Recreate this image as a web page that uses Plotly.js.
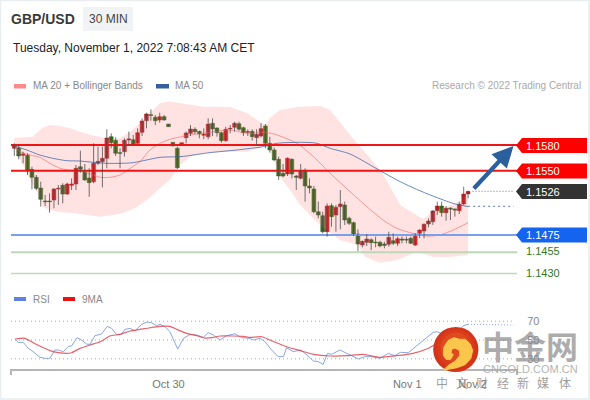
<!DOCTYPE html>
<html><head><meta charset="utf-8">
<script src="https://cdn.plot.ly/plotly-3.0.0.min.js"></script>
<style>html,body{margin:0;padding:0;background:#fff}#c{width:590px;height:400px}</style>
</head><body><div id="c"></div>
<script>
var open_=[1.15761,1.15765,1.15679,1.15679,1.15516,1.15423,1.15298,1.15147,1.15147,1.15158,1.15287,1.15329,1.15228,1.15329,1.15345,1.15547,1.15489,1.15415,1.15372,1.15586,1.15606,1.15644,1.15897,1.15854,1.15711,1.15722,1.15858,1.15862,1.15819,1.15948,1.16084,1.16154,1.16123,1.16092,1.16131,1.16045,1.15831,1.15761,1.15800,1.15886,1.15936,1.15983,1.15959,1.15913,1.15897,1.16053,1.15998,1.15944,1.15851,1.15987,1.16006,1.16049,1.16002,1.15948,1.15959,1.15886,1.15905,1.16022,1.15819,1.15742,1.15633,1.15469,1.15462,1.15633,1.15438,1.15411,1.15501,1.15322,1.15287,1.15022,1.14976,1.14789,1.15092,1.14983,1.15081,1.15100,1.14944,1.14894,1.14762,1.14633,1.14664,1.14695,1.14668,1.14664,1.14645,1.14641,1.14684,1.14653,1.14703,1.14699,1.14711,1.14633,1.14769,1.14797,1.14878,1.14905,1.15034,1.15088,1.15011,1.15065,1.15053,1.15034,1.15112,1.15228];
var close_=[1.15792,1.15672,1.15695,1.15508,1.15423,1.15294,1.15166,1.15139,1.15139,1.15287,1.15294,1.15228,1.15345,1.15345,1.15528,1.15516,1.15392,1.15361,1.15586,1.15609,1.15644,1.15882,1.15827,1.15703,1.15703,1.15854,1.15870,1.15808,1.15944,1.16080,1.16162,1.16146,1.16084,1.16131,1.16092,1.16014,1.15788,1.15536,1.15827,1.15940,1.15987,1.15956,1.15928,1.15924,1.16045,1.15987,1.15944,1.15851,1.15983,1.15994,1.16053,1.15983,1.15944,1.15956,1.15897,1.15924,1.15991,1.15819,1.15742,1.15625,1.15438,1.15438,1.15644,1.15462,1.15423,1.15501,1.15322,1.15298,1.15022,1.14983,1.14789,1.15088,1.14964,1.15073,1.15112,1.14925,1.14886,1.14750,1.14645,1.14676,1.14703,1.14661,1.14661,1.14622,1.14629,1.14723,1.14653,1.14707,1.14692,1.14692,1.14653,1.14762,1.14808,1.14874,1.14913,1.15030,1.15088,1.15011,1.15061,1.15053,1.15042,1.15108,1.15228,1.15259];
var high_=[1.15819,1.15800,1.15722,1.15703,1.15547,1.15450,1.15372,1.15217,1.15236,1.15294,1.15333,1.15353,1.15361,1.15411,1.15567,1.15734,1.15578,1.15528,1.15819,1.15781,1.15781,1.15983,1.15936,1.15889,1.15761,1.15878,1.15956,1.15917,1.15994,1.16111,1.16177,1.16216,1.16150,1.16177,1.16150,1.16045,1.15831,1.15781,1.15827,1.15956,1.16033,1.16006,1.15967,1.15994,1.16111,1.16111,1.16006,1.15956,1.16014,1.16033,1.16072,1.16072,1.16014,1.15983,1.15983,1.15983,1.16053,1.16045,1.15897,1.15769,1.15664,1.15578,1.15656,1.15644,1.15450,1.15578,1.15528,1.15411,1.15322,1.15139,1.15022,1.15119,1.15119,1.15100,1.15275,1.15139,1.14964,1.14906,1.14816,1.14684,1.14762,1.14711,1.14731,1.14684,1.14672,1.14789,1.14769,1.14731,1.14731,1.14731,1.14731,1.14769,1.14816,1.14886,1.14944,1.15042,1.15139,1.15139,1.15088,1.15073,1.15061,1.15139,1.15314,1.15267];
var low_=[1.15672,1.15633,1.15586,1.15450,1.15283,1.15275,1.15081,1.15088,1.15011,1.15061,1.15100,1.15119,1.15217,1.15275,1.15275,1.15477,1.15384,1.15197,1.15353,1.15567,1.15306,1.15528,1.15761,1.15672,1.15528,1.15664,1.15800,1.15800,1.15800,1.15905,1.15994,1.16084,1.16033,1.16061,1.16084,1.16014,1.15788,1.15520,1.15800,1.15819,1.15905,1.15928,1.15878,1.15866,1.15866,1.15905,1.15897,1.15827,1.15839,1.15936,1.15956,1.15967,1.15905,1.15905,1.15851,1.15800,1.15889,1.15761,1.15711,1.15617,1.15392,1.15423,1.15438,1.15411,1.15275,1.15399,1.15139,1.15236,1.15003,1.14944,1.14769,1.14731,1.14847,1.14789,1.14816,1.14867,1.14867,1.14738,1.14563,1.14606,1.14622,1.14575,1.14606,1.14606,1.14594,1.14614,1.14633,1.14622,1.14653,1.14653,1.14645,1.14622,1.14715,1.14711,1.14839,1.14867,1.14983,1.14964,1.14917,1.14925,1.14964,1.14995,1.15100,1.15178];

var upperX=[0,4.2,6.3,8.1,10.4,12.6,14.9,17.2,19.5,21.7,24,26.3,28.5,30.8,33.1,35.3,39.9,42.8,49,52.8,55.8,57,58,60.3,64.2,69.4,71.7,76.2,83.4,85.3,87.6,90.5,92.8,94.8,97.1,100.5,103];
var upperY=[1.15882,1.15897,1.15998,1.16033,1.16022,1.15995,1.15955,1.15917,1.15897,1.15858,1.15882,1.15955,1.16057,1.16173,1.1629,1.16308,1.16267,1.16247,1.16243,1.16173,1.16072,1.16033,1.16115,1.16208,1.16243,1.16255,1.16208,1.15917,1.15488,1.1531,1.151,1.15007,1.14937,1.15007,1.15065,1.15123,1.15217];
var lowerX=[0,1.3,3.6,5.2,6.5,8.1,10.4,13.3,16.5,19.5,22.4,24.7,27.9,30.1,33.1,35.3,37.6,39.9,42.8,48.3,52.8,55.8,57,58,60.3,62.6,64.9,69.4,73.9,78,79.6,83,86.9,91.4,95,98.2,103];
var lowerY=[1.15765,1.15625,1.15392,1.1524,1.15077,1.15042,1.15018,1.15007,1.14983,1.14963,1.14983,1.15007,1.15077,1.15158,1.15298,1.15392,1.15567,1.15663,1.15707,1.15722,1.15722,1.15765,1.15823,1.15742,1.15427,1.15275,1.151,1.14867,1.14692,1.14633,1.14497,1.14427,1.14458,1.14555,1.14497,1.1449,1.14517];
var ma20X=[0,1.3,3.6,5.8,8.1,10.4,12.6,14.9,17.2,19.5,21.7,24,26.3,28.5,30.8,33.1,35.3,39.9,42.8,49,52.8,57,59.6,64.2,67.9,71.7,76.2,80,83.7,86.8,90.5,93.6,96.6,99.6,103];
var ma20Y=[1.15781,1.15722,1.15683,1.15656,1.15586,1.15528,1.15508,1.15501,1.15462,1.15423,1.15423,1.1545,1.15528,1.15606,1.15742,1.15819,1.15866,1.15917,1.15936,1.15975,1.15936,1.15948,1.15917,1.15819,1.15664,1.15469,1.15256,1.15081,1.14925,1.14828,1.14769,1.14738,1.1475,1.14808,1.14894];
var ma50X=[0,2.8,5.8,8.8,11.9,14.9,17.9,21,24,27,30,33.1,37.6,39.1,44.4,50.5,56.5,59.6,65.5,68.7,71.7,76.2,83.4,87.6,91.3,95,99.6,103];
var ma50Y=[1.15788,1.15742,1.15683,1.15644,1.15617,1.15613,1.15598,1.15586,1.15586,1.15594,1.15625,1.15656,1.15664,1.15672,1.15711,1.15742,1.15781,1.1582,1.15831,1.1582,1.15761,1.15695,1.15489,1.15372,1.15283,1.15205,1.15119,1.15081];

var rsiX=[0.2,0.9,2,3.2,4.3,5.8,7,8.1,9.2,10,11.1,12.3,13,14.2,15.3,16.4,17.2,18.3,19.8,21.1,22.1,23.2,24.2,25.1,26.3,27.4,28.9,30.1,31.2,32.3,33.1,34.2,35.3,36.1,37.1,38.4,39.9,41.4,42.9,44,45.2,46.7,48.2,50.1,51.6,53.5,54.3,55.8,56.9,58.4,59.9,61.1,61.8,63.3,64.9,66,67.9,69,70.1,71.1,72,73.9,75.5,76.6,78.1,79.6,81.1,83,84.9,86.4,87.6,89.4,90.6,92.1,93.6,95.1,95.9,99.6,101.9,103];
var rsiY=[50.7,47.5,47.5,41.1,37.6,31.6,30.5,30.5,39.4,39.4,37.6,43.3,43.6,52.5,50,45.7,45.4,54.6,56.4,64.5,62.4,56,56,61.3,62.4,59.9,66.7,69.1,68.4,65.2,66.7,64.2,58.9,50,40.4,51.8,56,55.3,52.8,57.8,55.3,50,54.6,56.7,52.5,51.8,50,51.8,48.2,39.4,32.3,32.3,41.8,37.6,39.4,35.8,27.7,27,24.1,35.8,34.8,39.4,35.8,33.3,29.8,32.3,32.3,30.5,35.8,33.3,36.9,36.5,41.1,46.5,51.8,58.2,58.9,52,65.2,66.7];
var rsi9X=[0.2,1.3,2.4,3.9,5.8,8.1,10,11.9,13,14.9,17.2,19.5,21.7,24,26.3,28.5,30.8,33.1,35.3,36.9,39.1,41.4,43.3,45.2,46.7,49.7,52,53.5,56.2,58,61.8,64.9,67.9,71.7,75.5,79.2,83,86.8,90.5,93.6,96.6];
var rsi9Y=[51.1,51.8,51.8,48.2,43.6,38.7,36.5,35.8,36.5,41.1,44.7,48.2,54.3,56,59.6,61.3,63.1,64.5,64.5,61.3,57.1,54.6,52.1,52.8,54.3,54.3,53.9,52.8,53.5,50,42.9,38.7,34.8,33,33.3,34.8,31.6,33.3,35.8,40.4,48.2];

var levels=[1.1580,1.1550,1.1475,1.1455,1.1430];
var levelText=["1.1580","1.1550","1.1475","1.1455","1.1430"];
var levelColor=["#f01414","#f01414","#7ba0ea","#bcd8b6","#bcdcb6"];
var levelWidth=[2,2,2,2,1.4];
var lastPrice=1.1526, lastMA50=1.15085, lastRSI=66;
var rsiGuides=[30,50,70];
var tickVals=[35,89.2,104], tickText=["Oct 30","Nov 1","Nov 2"];
var wmChars=["中","文","财","经","新","媒","体"], wmCharX=[441.7,461.7,481.7,503,523,543,565];
var xMin=-0.75,xMax=114.1,lastIdx=103,dotEnd=113.3;

var W=590,H=400,idx=open_.map(function(_,i){return i;});
function fx(x){return x/W;} function fy(y){return 1-y/H;}
function path(pts,close){return pts.map(function(p,i){return (i?'L':'M')+fx(p[0]).toFixed(5)+','+fy(p[1]).toFixed(5);}).join(' ')+(close?' Z':'');}

var wx=[],wy=[];
idx.forEach(function(i){wx.push(i,i,null);wy.push(high_[i],low_[i],null);});
var bodyHi=idx.map(function(i){return Math.max(open_[i],close_[i]);});
var bodyLo=idx.map(function(i){return Math.min(open_[i],close_[i]);});
var bandCol='rgba(255,110,110,0.2)';
var traces=[];
traces.push({type:'scatter',mode:'lines',x:upperX.concat(lowerX.slice().reverse()),y:upperY.concat(lowerY.slice().reverse()),fill:'toself',fillcolor:bandCol,line:{width:0},hoverinfo:'skip',showlegend:false});
traces.push({type:'scatter',mode:'lines',x:ma20X,y:ma20Y,line:{color:'rgba(240,110,110,0.65)',width:1,shape:'spline',smoothing:0.7},showlegend:false});
traces.push({type:'scatter',mode:'lines',x:ma50X,y:ma50Y,line:{color:'rgba(55,100,165,0.75)',width:1,shape:'spline',smoothing:0.7},showlegend:false});
levels.forEach(function(v,k){traces.push({type:'scatter',mode:'lines',x:[xMin,xMax],y:[v,v],line:{color:levelColor[k],width:levelWidth[k]},showlegend:false});});
traces.push({type:'scatter',mode:'lines',x:[104,dotEnd],y:[lastPrice,lastPrice],line:{color:'#777',width:1,dash:'1px 2px'},showlegend:false});
traces.push({type:'scatter',mode:'lines',x:[lastIdx,dotEnd],y:[lastMA50,lastMA50],line:{color:'#5b78b0',width:1,dash:'2px 3px'},showlegend:false});
traces.push({type:'scatter',mode:'lines',x:wx,y:wy,line:{color:'rgba(70,70,70,0.75)',width:1},connectgaps:false,showlegend:false,hoverinfo:'skip'});
traces.push({type:'candlestick',x:idx,open:open_,close:close_,high:bodyHi,low:bodyLo,whiskerwidth:0,
  increasing:{line:{color:'#b81f24',width:0.5},fillcolor:'#c01f24'},decreasing:{line:{color:'#2b6a1f',width:0.5},fillcolor:'#2f701f'},showlegend:false});
rsiGuides.forEach(function(v){traces.push({type:'scatter',mode:'lines',xaxis:'x',yaxis:'y2',x:[xMin,xMax-0.6],y:[v,v],line:{color:'#aaa',width:1,dash:'1px 3px'},showlegend:false});});
traces.push({type:'scatter',mode:'lines',xaxis:'x',yaxis:'y2',x:rsiX,y:rsiY,line:{color:'#8ba6e2',width:1},showlegend:false});
traces.push({type:'scatter',mode:'lines',xaxis:'x',yaxis:'y2',x:[lastIdx,dotEnd],y:[rsiY[rsiY.length-1],lastRSI],line:{color:'#8ba6e2',width:1,dash:'1px 2px'},showlegend:false});
traces.push({type:'scatter',mode:'lines',xaxis:'x',yaxis:'y2',x:rsi9X,y:rsi9Y,line:{color:'rgba(228,70,80,0.85)',width:1.2,shape:'spline',smoothing:0.6},showlegend:false});

var shapes=[
 {type:'rect',xref:'paper',yref:'paper',x0:fx(0.5),x1:fx(589),y0:fy(399),y1:fy(0.5),line:{color:'#e9edf0',width:1.5},fillcolor:'rgba(0,0,0,0)',layer:'below'},
 {type:'rect',xref:'paper',yref:'paper',x0:fx(83),x1:fx(133),y0:fy(31),y1:fy(7),line:{width:0},fillcolor:'#f1f3f5',layer:'below'},
 {type:'rect',xref:'paper',yref:'paper',x0:fx(14),x1:fx(26),y0:fy(88.5),y1:fy(84),line:{width:0},fillcolor:'#ff8a8a'},
 {type:'rect',xref:'paper',yref:'paper',x0:fx(156),x1:fx(169),y0:fy(88.5),y1:fy(84),line:{width:0},fillcolor:'#34609f'},
 {type:'rect',xref:'paper',yref:'paper',x0:fx(14),x1:fx(26),y0:fy(301),y1:fy(297),line:{width:0},fillcolor:'#5f82dc'},
 {type:'rect',xref:'paper',yref:'paper',x0:fx(63),x1:fx(75),y0:fy(301),y1:fy(297),line:{width:0},fillcolor:'#ee1111'},
 {type:'path',xref:'paper',yref:'paper',path:path([[11,375],[11,370],[517,370],[517,375]]),line:{color:'#b5b5b5',width:2}}
];
var tags=[[145.5,'#ff0000'],[171,'#ff0000'],[191.5,'#333333'],[235,'#1464f0']];
tags.forEach(function(t){var c=t[0];
 shapes.push({type:'path',xref:'paper',yref:'paper',path:path([[516,c],[522,c-7.5],[587,c-7.5],[587,c+7.5],[522,c+7.5]],true),fillcolor:t[1],line:{width:0}});});

var cx=455.8,cy=349.5,R=22.6;
function circ(r,col,dy){return {type:'circle',xref:'paper',yref:'paper',x0:fx(cx-r),x1:fx(cx+r),y0:fy(cy+(dy||0)+r),y1:fy(cy+(dy||0)-r),fillcolor:col,line:{width:0}};}
shapes.push(circ(R,'#d4341a'),circ(19,'#da3c1b',-1),circ(15,'#e04a1f',-2));
var swirlPts=[[443.3,355.3],[444,347],[448.3,340.3],[454,337.7],[459.3,339.3],[465,339.3],[470,343.7],[472.7,350.3],[470.7,358.7],[465,364.7],[456.7,367.7],[448.3,369.3],[443.3,370.3],[448.3,365.3],[455,361.3],[460,355.3],[459.3,350.3],[455,348],[451.7,349.3],[451,352.7],[453.3,354.7],[450.7,359.3],[446,359.3]];
shapes.push({type:'path',xref:'paper',yref:'paper',path:path(swirlPts,true),fillcolor:'#fbc64c',line:{color:'#fbc64c',width:1}});

function note(x,y,text,size,color,anchor,family){var a=anchor||'left';return {xref:'paper',yref:'paper',x:fx(a==='left'?x-2:a==='right'?x+2:x),y:fy(y),text:text,showarrow:false,xanchor:a,yanchor:'middle',font:{family:family||'Liberation Sans, Arial, sans-serif',size:size,color:color}};}
var annos=[
 note(11,19,'<b>GBP/USD</b>',14,'#3a3a3a'),
 note(89,19,'30 MIN',12,'#444'),
 note(13,48,'Tuesday, November 1, 2022 7:08:43 AM CET',12,'#222'),
 note(33,86,'MA 20 + Bollinger Bands',10,'#888'),
 note(175,86,'MA 50',10,'#888'),
 note(581,86,'Research © 2022 Trading Central',10,'#aaa','right'),
 note(33,299,'RSI',10,'#888'),
 note(82,299,'9MA',10,'#888'),
 note(525.5,145.5,levelText[0],11,'#fff'),
 note(525.5,171,levelText[1],11,'#fff'),
 note(525.5,191.5,lastPrice.toFixed(4),11,'#fff'),
 note(525.5,235,levelText[2],11,'#fff'),
 note(525.5,251,levelText[3],11,'#2b7a2b'),
 note(525.5,273,levelText[4],11,'#2b7a2b'),
 {xref:'x',yref:'y',x:113.3,y:1.15788,axref:'pixel',ayref:'pixel',ax:-41,ay:44,showarrow:true,arrowhead:2,arrowsize:1,arrowwidth:4.2,arrowcolor:'#2c5f9e',text:''},
 note(530,345,'<b>中金网</b>',32,'rgba(140,140,140,0.72)','center','Noto Sans CJK SC, serif'),
 note(530.5,369,'CNGOLD.COM.CN',11,'rgba(165,165,165,0.85)','center')
];
wmChars.forEach(function(c,k){annos.push(note(wmCharX[k],382,c,12,'rgba(140,140,140,0.85)','center','Noto Sans CJK SC'));});

var layout={width:W,height:H,margin:{l:0,r:0,t:0,b:0},paper_bgcolor:'#fff',plot_bgcolor:'rgba(0,0,0,0)',showlegend:false,dragmode:false,boxgap:0.12,boxgroupgap:0,
 xaxis:{domain:[fx(11),fx(517)],range:[xMin,xMax],anchor:'y2',type:'linear',rangeslider:{visible:false},showgrid:false,zeroline:false,showline:false,
   tickmode:'array',tickvals:tickVals,ticktext:tickText,ticks:'outside',ticklen:4,tickcolor:'rgba(0,0,0,0)',tickfont:{family:'Liberation Sans, Arial, sans-serif',size:11,color:'#777'}},
 yaxis:{domain:[fy(280),fy(100)],range:[1.14225,1.16325],showgrid:false,zeroline:false,showticklabels:false,ticks:'',fixedrange:true},
 yaxis2:{domain:[fy(370),fy(300)],range:[18.1,92.6],side:'right',showgrid:false,zeroline:false,tickmode:'array',tickvals:rsiGuides,ticks:'outside',ticklen:7,tickcolor:'rgba(0,0,0,0)',tickfont:{family:'Liberation Sans, Arial, sans-serif',size:11,color:'#888'},fixedrange:true},
 shapes:shapes,annotations:annos};
Plotly.newPlot('c',traces,layout,{displayModeBar:false,staticPlot:true});
</script></body></html>
